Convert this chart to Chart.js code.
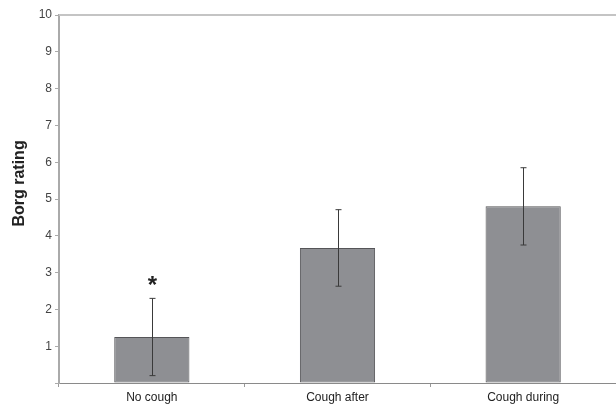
<!DOCTYPE html>
<html>
<head>
<meta charset="utf-8">
<script src="https://cdn.jsdelivr.net/npm/chart.js@4/dist/chart.umd.min.js"></script>
<style>
  html, body { margin: 0; padding: 0; background: #fff; }
  #wrap { width: 616px; height: 410px; }
</style>
</head>
<body>
<div id="wrap"><canvas id="borgChart"></canvas></div>
<script>
const categories = ['No cough', 'Cough after', 'Cough during'];
const borgMeans = [1.25, 3.67, 4.8];
const borgErrors = [1.05, 1.04, 1.05];
const markers = ['*', '', ''];
const yTicks = [0, 1, 2, 3, 4, 5, 6, 7, 8, 9, 10];

// error bars, asterisk and the light frame line on top
const extrasPlugin = {
    id: 'extras',
    afterDatasetsDraw(chart) {
        const ctx = chart.ctx;
        const y = chart.scales.y;
        const area = chart.chartArea;
        const meta = chart.getDatasetMeta(0);

        ctx.save();
        ctx.strokeStyle = '#c4c4c4';
        ctx.lineWidth = 2;
        ctx.beginPath();
        ctx.moveTo(area.left, area.top);
        ctx.lineTo(area.right, area.top);
        ctx.stroke();

        ctx.strokeStyle = '#3a3a3a';
        ctx.lineWidth = 1;
        meta.data.forEach((bar, i) => {
            const hi = y.getPixelForValue(borgMeans[i] + borgErrors[i]);
            const lo = y.getPixelForValue(borgMeans[i] - borgErrors[i]);
            const x = Math.round(bar.x) + 0.5;
            ctx.beginPath();
            ctx.moveTo(x, hi);
            ctx.lineTo(x, lo);
            ctx.moveTo(x - 3, hi);
            ctx.lineTo(x + 3, hi);
            ctx.moveTo(x - 3, lo);
            ctx.lineTo(x + 3, lo);
            ctx.stroke();

            if (markers[i]) {
                ctx.fillStyle = '#222';
                ctx.font = 'bold 24px "Liberation Sans", Arial, sans-serif';
                ctx.textAlign = 'center';
                ctx.textBaseline = 'middle';
                ctx.fillText(markers[i], x, hi - 12);
            }
        });
        ctx.restore();
    }
};

new Chart(document.getElementById('borgChart'), {
    type: 'bar',
    data: {
        labels: categories,
        datasets: [{
            data: borgMeans,
            backgroundColor: '#8e8f93',
            borderColor: '#555558',
            borderWidth: 1,
            borderSkipped: false,
            categoryPercentage: 1,
            barPercentage: 0.405
        }]
    },
    options: {
        responsive: true,
        maintainAspectRatio: false,
        animation: false,
        layout: { padding: { top: 15, right: 0, left: 0, bottom: 0 } },
        plugins: {
            legend: { display: false },
            tooltip: { enabled: false }
        },
        scales: {
            x: {
                offset: true,
                grid: {
                    offset: true,
                    drawOnChartArea: false,
                    tickLength: 4,
                    color: '#999'
                },
                border: { color: '#8a8a8a', width: 1 },
                ticks: {
                    color: '#222',
                    padding: 3,
                    font: { family: '"Liberation Sans", Arial, sans-serif', size: 12 }
                },
                afterFit(scale) { scale.height = 27; }
            },
            y: {
                min: 0,
                max: 10,
                afterBuildTicks(scale) {
                    scale.ticks = yTicks.map(v => ({ value: v }));
                },
                grid: {
                    drawOnChartArea: false,
                    tickLength: 4,
                    color: '#aaa'
                },
                border: { color: '#aaa', width: 2 },
                ticks: {
                    color: '#444',
                    padding: 3,
                    font: { family: '"Liberation Sans", Arial, sans-serif', size: 12 },
                    callback: v => (v === 0 ? '' : v)
                },
                title: {
                    display: true,
                    // leading spaces lift the rotated title a little, as in the original
                    text: '       Borg rating',
                    color: '#222',
                    padding: { top: 10, bottom: 0 },
                    font: { family: '"Liberation Sans", Arial, sans-serif', size: 16, weight: 'bold' }
                },
                afterFit(scale) { scale.width = 59; }
            }
        }
    },
    plugins: [extrasPlugin]
});
</script>
</body>
</html>
